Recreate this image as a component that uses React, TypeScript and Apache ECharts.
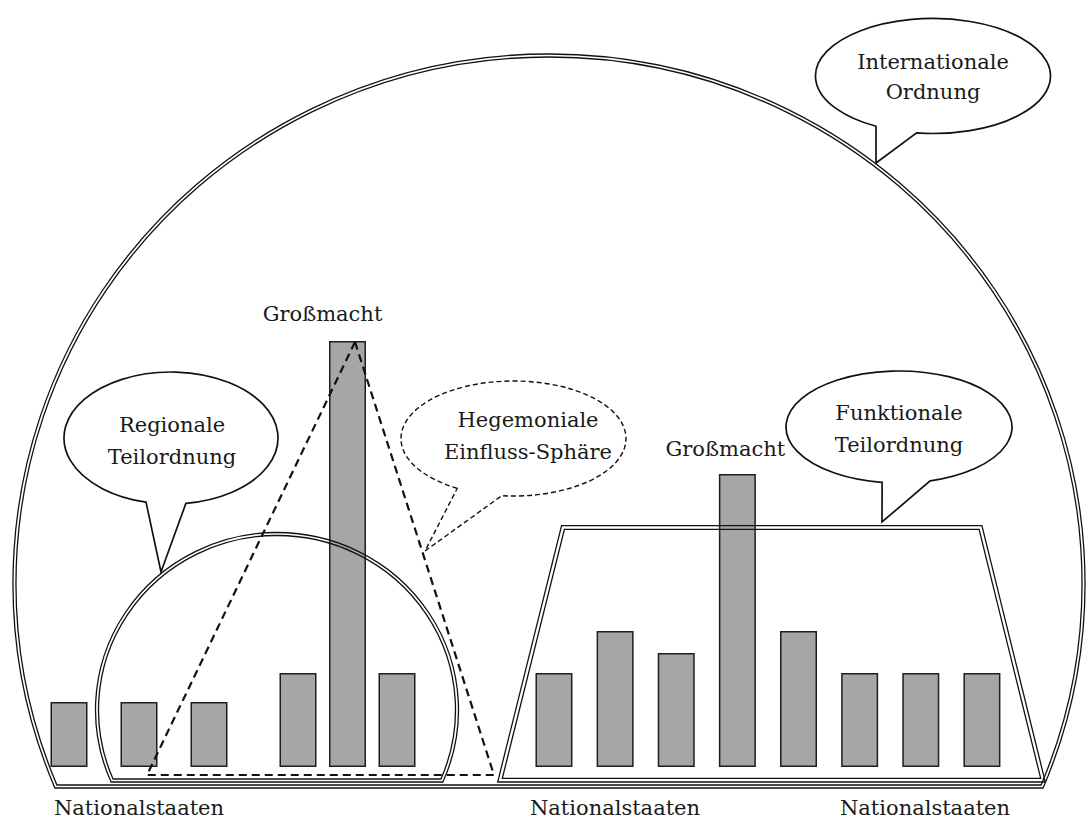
import React, { useEffect, useRef } from "react";
import * as echarts from "echarts";

// ---- data ----
const regionalStates = ["Staat 1", "Staat 2", "Staat 3"];
const regionalValues = [13, 13, 13];

const hegemonStates = ["Staat 4", "Großmacht A", "Staat 5"];
const hegemonValues = [18.8, 85.2, 18.8];
const hegemonPowerIndex = 1;

const functionalStates = ["Staat 6", "Staat 7", "Staat 8", "Großmacht B", "Staat 9", "Staat 10", "Staat 11", "Staat 12"];
const functionalValues = [18.8, 27.2, 22.8, 58.6, 27.2, 18.8, 18.8, 18.8];
const functionalPowerIndex = 3;

const powerLabel = "Großmacht";
const groupLabel = "Nationalstaaten";
const internationalLines = ["Internationale", "Ordnung"];
const regionalLines = ["Regionale", "Teilordnung"];
const hegemonLines = ["Hegemoniale", "Einfluss-Sphäre"];
const functionalLines = ["Funktionale", "Teilordnung"];

// ---- geometry helpers ----
function domePath(cx: number, cy: number, rx: number, ry: number, cutY: number) {
  const half = rx * Math.sqrt(1 - Math.pow((cutY - cy) / ry, 2));
  return `M ${cx - half} ${cutY} A ${rx} ${ry} 0 1 1 ${cx + half} ${cutY} Z`;
}

function bubblePath(cx: number, cy: number, rx: number, ry: number, a1: number, a2: number, tx: number, ty: number) {
  const r1 = (a1 * Math.PI) / 180;
  const r2 = (a2 * Math.PI) / 180;
  const p1x = cx + rx * Math.cos(r1), p1y = cy + ry * Math.sin(r1);
  const p2x = cx + rx * Math.cos(r2), p2y = cy + ry * Math.sin(r2);
  return `M ${p2x} ${p2y} A ${rx} ${ry} 0 1 1 ${p1x} ${p1y} L ${tx} ${ty} Z`;
}

function offsetPolygon(pts: number[][], d: number) {
  const n = pts.length;
  const normals: number[][] = [];
  for (let i = 0; i < n; i++) {
    const a = pts[i], b = pts[(i + 1) % n];
    const dx = b[0] - a[0], dy = b[1] - a[1];
    const len = Math.hypot(dx, dy);
    normals.push([dy / len, -dx / len]);
  }
  return pts.map((p, i) => {
    const n1 = normals[(i - 1 + n) % n];
    const n2 = normals[i];
    let mx = n1[0] + n2[0], my = n1[1] + n2[1];
    const ml = Math.hypot(mx, my);
    mx /= ml; my /= ml;
    const k = d / (mx * n1[0] + my * n1[1]);
    return [p[0] + mx * k, p[1] + my * k];
  });
}

const domeCx = 549, domeCy = 583;
const regCx = 277, regCy = 710;

echarts.graphic.registerShape("domeOuter", echarts.graphic.extendPath(domePath(domeCx, domeCy, 536, 529, 788), {}) as any);
echarts.graphic.registerShape("domeInner", echarts.graphic.extendPath(domePath(domeCx, domeCy, 533, 526, 785), {}) as any);
echarts.graphic.registerShape("regOuter", echarts.graphic.extendPath(domePath(regCx, regCy, 181.5, 177.5, 782), {}) as any);
echarts.graphic.registerShape("regInner", echarts.graphic.extendPath(domePath(regCx, regCy, 178.5, 174.5, 779), {}) as any);
echarts.graphic.registerShape("bubbleIntl", echarts.graphic.extendPath(bubblePath(933, 76, 117.5, 57.5, 98, 119, 876, 163), {}) as any);
echarts.graphic.registerShape("bubbleReg", echarts.graphic.extendPath(bubblePath(171, 438, 107, 66, 82, 103.5, 161, 572), {}) as any);
echarts.graphic.registerShape("bubbleHeg", echarts.graphic.extendPath(bubblePath(513.5, 438.5, 112.5, 57.5, 96, 120, 425, 551), {}) as any);
echarts.graphic.registerShape("bubbleFun", echarts.graphic.extendPath(bubblePath(899, 427, 113, 56, 74, 98.6, 882, 522), {}) as any);

const trapezoid = [[563, 527.5], [980.5, 527.5], [1043, 780.2], [500, 780.2]];

const FONT = '"DejaVu Serif", "Liberation Serif", serif';
const TEXT_COLOR = "#1a1a1a";

function textEl(text: string, x: number, y: number, vAlign: string = "middle") {
  return {
    type: "text",
    x,
    y,
    z: 30,
    silent: true,
    style: {
      text,
      fill: TEXT_COLOR,
      font: `21px ${FONT}`,
      fontSize: 21,
      fontFamily: FONT,
      align: "center",
      verticalAlign: vAlign,
      textAlign: "center",
      textVerticalAlign: vAlign,
    },
  };
}

const lineStyle = { fill: "none", stroke: "#111", lineWidth: 1.3 };

export default function App() {
  const ref = useRef<HTMLDivElement>(null);

  useEffect(() => {
    document.body.style.margin = "0";
    if (!ref.current) return;
    const chart = echarts.init(ref.current, undefined, { renderer: "svg" });

    const powerItemLabel = (dx: number, dy: number) => ({
      show: true,
      position: "top",
      formatter: powerLabel,
      offset: [dx, dy],
      fontFamily: FONT,
      fontSize: 21,
      color: TEXT_COLOR,
    });

    const barStyle = { color: "#a6a6a6", borderColor: "#1e1e1e", borderWidth: 1.5 };

    const grids = [
      { left: 34, width: 210, top: 267, height: 500 },
      { left: 273.25, width: 148.5, top: 267, height: 500 },
      { left: 523.4, width: 489.1, top: 267, height: 500 },
    ].map((g) => ({ ...g, outerBoundsMode: "none", containLabel: false }));

    const cats = [regionalStates, hegemonStates, functionalStates];

    const option: any = {
      animation: false,
      backgroundColor: "#ffffff",
      grid: grids,
      xAxis: cats.map((c, i) => ({ type: "category", gridIndex: i, data: c, show: false })),
      yAxis: cats.map((_, i) => ({ type: "value", gridIndex: i, min: 0, max: 100, show: false })),
      series: [
        {
          type: "bar",
          xAxisIndex: 0,
          yAxisIndex: 0,
          barWidth: 37,
          itemStyle: barStyle,
          data: regionalValues,
        },
        {
          type: "bar",
          xAxisIndex: 1,
          yAxisIndex: 1,
          barWidth: 37,
          itemStyle: barStyle,
          data: hegemonValues.map((v, i) =>
            i === hegemonPowerIndex ? { value: v, label: powerItemLabel(-25, -12) } : v
          ),
        },
        {
          type: "bar",
          xAxisIndex: 2,
          yAxisIndex: 2,
          barWidth: 37,
          itemStyle: barStyle,
          data: functionalValues.map((v, i) =>
            i === functionalPowerIndex ? { value: v, label: powerItemLabel(-12, -10) } : v
          ),
        },
      ],
      graphic: {
        elements: [
          { type: "domeOuter", z: 10, silent: true, style: lineStyle },
          { type: "domeInner", z: 10, silent: true, style: lineStyle },
          { type: "regOuter", z: 10, silent: true, style: lineStyle },
          { type: "regInner", z: 10, silent: true, style: lineStyle },
          {
            type: "polygon",
            z: 10,
            silent: true,
            shape: { points: offsetPolygon(trapezoid, 1.8) },
            style: lineStyle,
          },
          {
            type: "polygon",
            z: 10,
            silent: true,
            shape: { points: offsetPolygon(trapezoid, -1.8) },
            style: lineStyle,
          },
          {
            type: "polygon",
            z: 11,
            silent: true,
            shape: { points: [[355, 342], [494, 775], [147, 775]] },
            style: { fill: "none", stroke: "#111", lineWidth: 2.2, lineDash: [8, 5] },
          },
          { type: "bubbleIntl", z: 12, silent: true, style: { fill: "#fff", stroke: "#111", lineWidth: 1.7 } },
          { type: "bubbleReg", z: 12, silent: true, style: { fill: "#fff", stroke: "#111", lineWidth: 1.7 } },
          { type: "bubbleFun", z: 12, silent: true, style: { fill: "#fff", stroke: "#111", lineWidth: 1.7 } },
          {
            type: "bubbleHeg",
            z: 12,
            silent: true,
            style: { fill: "#fff", stroke: "#111", lineWidth: 1.4, lineDash: [5, 3] },
          },
          textEl(internationalLines[0], 933, 61.5),
          textEl(internationalLines[1], 933, 91.5),
          textEl(regionalLines[0], 172, 424.5),
          textEl(regionalLines[1], 172, 456.5),
          textEl(hegemonLines[0], 528, 419.5),
          textEl(hegemonLines[1], 528, 451.5),
          textEl(functionalLines[0], 899, 412.5),
          textEl(functionalLines[1], 899, 444.5),
          textEl(groupLabel, 139, 818, "bottom"),
          textEl(groupLabel, 615, 818, "bottom"),
          textEl(groupLabel, 925, 818, "bottom"),
        ],
      },
    };

    chart.setOption(option);
    return () => chart.dispose();
  }, []);

  return <div ref={ref} style={{ width: 1090, height: 821 }} />;
}
